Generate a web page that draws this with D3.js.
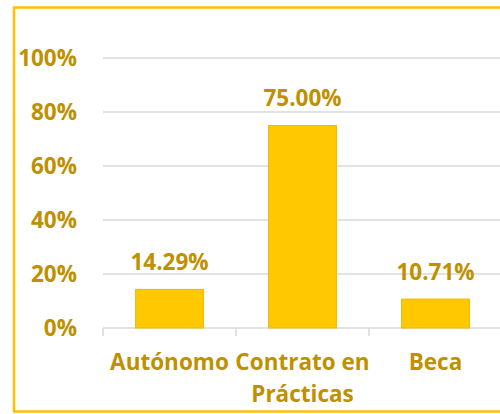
<!DOCTYPE html>
<html><head><meta charset="utf-8">
<script src="https://cdn.jsdelivr.net/npm/d3@7"></script>
<style>body{margin:0;background:#fff;}svg{display:block;}</style>
</head><body>
<script>
const categories = [["Autónomo"], ["Contrato en", "Prácticas"], ["Beca"]];
const values = [14.29, 75.00, 10.71];
const valueLabels = ["14.29%", "75.00%", "10.71%"];
const yTicks = [0, 20, 40, 60, 80, 100];
const yTickLabels = ["0%", "20%", "40%", "60%", "80%", "100%"];

(function () {
const W = 500, H = 414;
const textColor = "#BF9000";
const font = "'Open Sans', Lato, sans-serif";
const fs = 22.5;

const svg = d3.select("body").append("svg").attr("width", W).attr("height", H);

// outer frame
svg.append("rect").attr("x", 14).attr("y", 7.5).attr("width", 500).attr("height", 404)
  .attr("fill", "none").attr("stroke", "#FFC000").attr("stroke-width", 2.5);

const pLeft = 103, pRight = 502, pTop = 58, pBottom = 328;
const x = d3.scaleBand().domain(d3.range(values.length)).range([pLeft, pRight]).paddingInner(0.49).paddingOuter(0.245);
const xb = d3.scaleBand().domain(d3.range(values.length)).range([pLeft, pRight]);
const y = d3.scaleLinear().domain([0, 100]).range([pBottom, pTop]);

// gridlines
svg.append("g").selectAll("line").data(yTicks.filter(d => d > 0)).join("line")
  .attr("x1", pLeft).attr("x2", pRight).attr("y1", d => y(d)).attr("y2", d => y(d))
  .attr("stroke", "#D9D9D9").attr("stroke-width", 1.5);

// y tick labels
svg.append("g").selectAll("text").data(yTicks).join("text")
  .attr("x", 77).attr("y", d => y(d) + 8)
  .attr("text-anchor", "end").attr("fill", textColor)
  .style("font-family", font).style("font-weight", "bold").style("font-size", fs + "px")
  .text((d, i) => yTickLabels[i]);

// x axis
const xAxis = svg.append("g");
xAxis.append("line").attr("x1", pLeft).attr("x2", pRight).attr("y1", pBottom).attr("y2", pBottom)
  .attr("stroke", "#D9D9D9").attr("stroke-width", 1.5);
xAxis.selectAll("line.tick").data(d3.range(values.length + 1)).join("line").attr("class", "tick")
  .attr("x1", i => pLeft + i * xb.bandwidth()).attr("x2", i => pLeft + i * xb.bandwidth())
  .attr("y1", pBottom).attr("y2", pBottom + 8)
  .attr("stroke", "#D9D9D9").attr("stroke-width", 1.5);

// bars
svg.append("g").selectAll("rect").data(values).join("rect")
  .attr("x", (d, i) => x(i)).attr("width", x.bandwidth())
  .attr("y", d => y(d)).attr("height", d => y(0) - y(d))
  .attr("fill", "#FFC800").attr("stroke", "#F2B700").attr("stroke-width", 1);

// value labels
svg.append("g").selectAll("text").data(values).join("text")
  .attr("x", (d, i) => x(i) + x.bandwidth() / 2).attr("y", d => y(d) - 19.5)
  .attr("text-anchor", "middle").attr("fill", textColor)
  .style("font-family", font).style("font-weight", "bold").style("font-size", fs + "px")
  .text((d, i) => valueLabels[i]);

// category labels
const cl = svg.append("g").selectAll("text").data(categories).join("text")
  .attr("text-anchor", "middle").attr("fill", textColor)
  .style("font-family", font).style("font-weight", "bold").style("font-size", fs + "px");
cl.selectAll("tspan").data((d, i) => d.map(t => ({t, i}))).join("tspan")
  .attr("x", d => xb(d.i) + xb.bandwidth() / 2)
  .attr("y", (d, j) => 370 + j * 32)
  .text(d => d.t);
})();
</script>
</body></html>
